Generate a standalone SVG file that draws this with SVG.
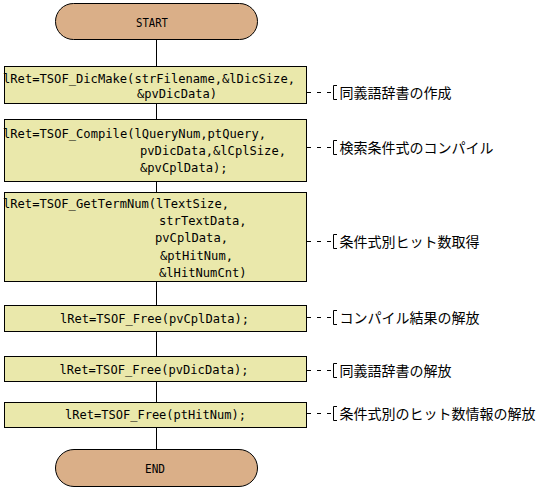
<svg xmlns="http://www.w3.org/2000/svg" width="558" height="491" viewBox="0 0 558 491">
<style>
.term{fill:#DAAF88;stroke:#000;stroke-width:1}
.proc{fill:#EAE8AB;stroke:#000;stroke-width:1}
.flow{stroke:#000;stroke-width:1;fill:none}
.dash{stroke:#000;stroke-width:1;fill:none;stroke-dasharray:4 6}
.br{stroke:#000;stroke-width:1;fill:none}
.code{font-family:"DejaVu Sans Mono","Liberation Mono",monospace;font-size:13px;fill:#000}
.jp{font-family:"Noto Sans CJK JP","Noto Sans CJK SC",sans-serif;font-size:14px;fill:#000}
</style>
<rect width="558" height="491" fill="#fff"/>
<g id="connectors">
<line class="flow" x1="156.5" y1="39" x2="156.5" y2="449"/>
<path class="dash" d="M307 92.5H331 M307 147.5H331 M307 241.5H331 M307 317.5H331 M307 370.5H331 M307 413.5H331"/>
<path class="br" d="M337 85.5H333.5V99.5H337 M337 140.5H333.5V154.5H337 M337 234.5H333.5V248.5H337 M337 310.5H333.5V324.5H337 M337 363.5H333.5V377.5H337 M337 406.5H333.5V420.5H337"/>
</g>
<g id="start">
<rect class="term" x="55.5" y="3.5" width="202" height="36" rx="18" ry="18"/>
<text class="code" x="152" y="26.5" text-anchor="middle" textLength="32" lengthAdjust="spacingAndGlyphs">START</text>
</g>
<g id="dicmake">
<rect class="proc" x="4.5" y="66.5" width="302" height="37"/>
<text class="code" x="3" y="83" textLength="292" lengthAdjust="spacingAndGlyphs">lRet=TSOF_DicMake(strFilename,&amp;lDicSize,</text>
<text class="code" x="137" y="98" textLength="80" lengthAdjust="spacingAndGlyphs">&amp;pvDicData)</text>
</g>
<g id="compile">
<rect class="proc" x="4.5" y="119.5" width="302" height="62"/>
<text class="code" x="3" y="138" textLength="263" lengthAdjust="spacingAndGlyphs">lRet=TSOF_Compile(lQueryNum,ptQuery,</text>
<text class="code" x="140" y="155" textLength="146" lengthAdjust="spacingAndGlyphs">pvDicData,&amp;lCplSize,</text>
<text class="code" x="140" y="172" textLength="87.6" lengthAdjust="spacingAndGlyphs">&amp;pvCplData);</text>
</g>
<g id="gettermnum">
<rect class="proc" x="4.5" y="192.5" width="302" height="89"/>
<text class="code" x="3" y="207.5" textLength="226" lengthAdjust="spacingAndGlyphs">lRet=TSOF_GetTermNum(lTextSize,</text>
<text class="code" x="159" y="225" textLength="87.6" lengthAdjust="spacingAndGlyphs">strTextData,</text>
<text class="code" x="155" y="242" textLength="73" lengthAdjust="spacingAndGlyphs">pvCplData,</text>
<text class="code" x="160" y="259.5" textLength="73" lengthAdjust="spacingAndGlyphs">&amp;ptHitNum,</text>
<text class="code" x="159" y="276.5" textLength="87.6" lengthAdjust="spacingAndGlyphs">&amp;lHitNumCnt)</text>
</g>
<g id="free-cpl">
<rect class="proc" x="4.5" y="305.5" width="302" height="26"/>
<text class="code" x="60" y="323.3" textLength="189" lengthAdjust="spacingAndGlyphs">lRet=TSOF_Free(pvCplData);</text>
</g>
<g id="free-dic">
<rect class="proc" x="4.5" y="356.5" width="302" height="25"/>
<text class="code" x="59.5" y="374" textLength="189" lengthAdjust="spacingAndGlyphs">lRet=TSOF_Free(pvDicData);</text>
</g>
<g id="free-hit">
<rect class="proc" x="4.5" y="402.5" width="302" height="25"/>
<text class="code" x="65" y="419.3" textLength="181" lengthAdjust="spacingAndGlyphs">lRet=TSOF_Free(ptHitNum);</text>
</g>
<g id="end">
<rect class="term" x="55.5" y="449.5" width="202" height="37" rx="18.5" ry="18.5"/>
<text class="code" x="155" y="472.7" text-anchor="middle" textLength="20" lengthAdjust="spacingAndGlyphs">END</text>
</g>
<g id="labels">
<text class="jp" x="339.5" y="97.5">同義語辞書の作成</text>
<text class="jp" x="339.5" y="152.5">検索条件式のコンパイル</text>
<text class="jp" x="339.5" y="246.5">条件式別ヒット数取得</text>
<text class="jp" x="339.5" y="322.5">コンパイル結果の解放</text>
<text class="jp" x="339.5" y="375.5">同義語辞書の解放</text>
<text class="jp" x="339.5" y="418.5">条件式別のヒット数情報の解放</text>
</g>
</svg>
